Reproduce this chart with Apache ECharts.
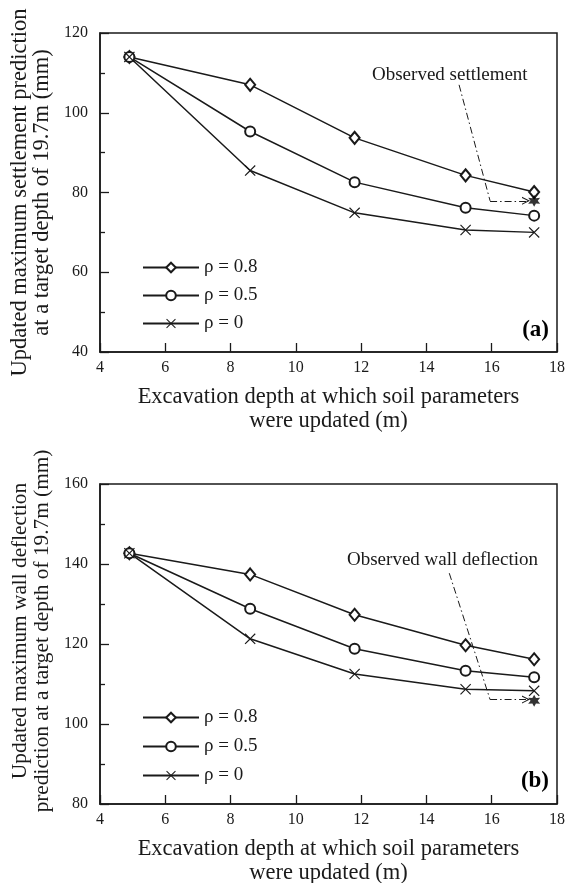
<!DOCTYPE html>
<html>
<head>
<meta charset="utf-8">
<script src="https://cdn.jsdelivr.net/npm/echarts@6/dist/echarts.min.js"></script>
<style>
html,body{margin:0;padding:0;background:#fff;}
#chart{width:565px;height:883px;}
</style>
</head>
<body>
<div id="chart"></div>
<script>
// ---- data ----
const xDepth = [4.9, 8.6, 11.8, 15.2, 17.3];
const settleRho08 = [114.0, 107.0, 93.7, 84.3, 80.1];
const settleRho05 = [114.0, 95.3, 82.6, 76.2, 74.2];
const settleRho00 = [114.0, 85.5, 74.9, 70.6, 70.0];
const settleObserved = [[17.3, 77.9]];
const deflRho08 = [142.7, 137.4, 127.3, 119.7, 116.2];
const deflRho05 = [142.7, 128.8, 118.8, 113.3, 111.7];
const deflRho00 = [142.7, 121.3, 112.5, 108.7, 108.3];
const deflObserved = [[17.3, 105.8]];
const seriesNames = ['ρ = 0.8', 'ρ = 0.5', 'ρ = 0'];
const xTicks = [4, 6, 8, 10, 12, 14, 16, 18];
const settleTicks = [40, 60, 80, 100, 120];
const deflTicks = [80, 100, 120, 140, 160];
// annotation leader lines (data coordinates)
const settleLeader = [[15.0, 107.0], [15.95, 77.9]];
const settleArrow = [[15.95, 77.9], [17.05, 77.9]];
const deflLeader = [[14.7, 137.7], [15.95, 106.1]];
const deflArrow = [[15.95, 106.1], [17.05, 106.1]];

const pair = (xs, ys) => xs.map((x, i) => [x, ys[i]]);

const FONT = '"Liberation Serif", "Times New Roman", serif';
const INK = '#1a1a1a';
const crossPath = 'path://M0,1.5 L1.5,0 L10,8.5 L18.5,0 L20,1.5 L11.5,10 L20,18.5 L18.5,20 L10,11.5 L1.5,20 L0,18.5 L8.5,10 Z';
const starPath = 'path://M5,0 L6.3,2.75 L9.33,2.5 L7.6,5 L9.33,7.5 L6.3,7.25 L5,10 L3.7,7.25 L0.67,7.5 L2.4,5 L0.67,2.5 L3.7,2.75 Z';
const chevronPath = 'path://M0,10 L5,0 L10,10 L8.6,10 L5,2.8 L1.4,10 Z';

const markerDefs = [
  {symbol: 'emptyDiamond', symbolSize: [10, 12], border: 1.2},
  {symbol: 'emptyCircle', symbolSize: 10, border: 1.2},
  {symbol: crossPath, symbolSize: 11, border: 0}
];

function xAxisDef(gi) {
  return {
    gridIndex: gi, type: 'value', min: 4, max: 18, interval: 2,
    name: 'Excavation depth at which soil parameters\nwere updated (m)',
    nameLocation: 'middle', nameGap: 33,
    nameTextStyle: {fontFamily: FONT, fontSize: 22.5, color: INK, lineHeight: 24},
    axisLine: {show: true, lineStyle: {color: INK, width: 1.5}},
    axisTick: {show: true, inside: true, length: 9, lineStyle: {color: INK, width: 1.3}},
    axisLabel: {fontFamily: FONT, fontSize: 16, color: INK, margin: 8,
      formatter: v => xTicks.includes(v) ? String(v) : ''},
    splitLine: {show: false}
  };
}
function yAxisDef(gi, min, max, name, ticks, fs, pad) {
  return {
    gridIndex: gi, type: 'value', min: min, max: max, interval: 20,
    name: name, nameLocation: 'middle', nameGap: 47,
    nameTextStyle: {fontFamily: FONT, fontSize: fs, color: INK, lineHeight: 22, padding: pad},
    axisLine: {show: true, lineStyle: {color: INK, width: 1.5}},
    axisTick: {show: true, inside: true, length: 9, lineStyle: {color: INK, width: 1.3}},
    minorTick: {show: true, splitNumber: 2, length: 5, lineStyle: {color: INK, width: 1.3}},
    axisLabel: {fontFamily: FONT, fontSize: 16, color: INK, margin: 12,
      formatter: v => ticks.includes(v) ? String(v) : ''},
    splitLine: {show: false}
  };
}

function lineSeries(name, gi, ys, k) {
  return {
    name: name, type: 'line', xAxisIndex: gi, yAxisIndex: gi,
    data: pair(xDepth, ys),
    symbol: markerDefs[k].symbol, symbolSize: markerDefs[k].symbolSize,
    showAllSymbol: true,
    lineStyle: {color: INK, width: 1.5},
    itemStyle: {color: INK, borderColor: INK, borderWidth: markerDefs[k].border},
    z: 3
  };
}

function annotationSeries(gi, leader, arrow, observed) {
  return [
    {
      type: 'lines', coordinateSystem: 'cartesian2d', xAxisIndex: gi, yAxisIndex: gi,
      data: [
        {coords: leader, symbol: ['none', 'none']},
        {coords: arrow, symbol: ['none', chevronPath], symbolSize: [8, 8]}
      ],
      symbol: ['none', chevronPath], symbolSize: 8,
      lineStyle: {color: INK, width: 1, type: [7, 3, 1.5, 3], opacity: 1, curveness: 0},
      z: 2, silent: true
    },
    {
      type: 'scatter', xAxisIndex: gi, yAxisIndex: gi, data: observed,
      symbol: starPath, symbolSize: 12, itemStyle: {color: '#000'}, z: 4
    }
  ];
}

const option = {
  animation: false,
  backgroundColor: '#fff',
  grid: [
    {left: 100, right: 8, top: 33, height: 319, show: true, borderColor: INK, borderWidth: 1.5,
      backgroundColor: 'transparent', outerBoundsMode: 'none'},
    {left: 100, right: 8, top: 484, height: 320, show: true, borderColor: INK, borderWidth: 1.5,
      backgroundColor: 'transparent', outerBoundsMode: 'none'}
  ],
  xAxis: [xAxisDef(0), xAxisDef(1)],
  yAxis: [
    yAxisDef(0, 40, 120, 'Updated maximum settlement prediction\nat a target depth of 19.7m (mm)', settleTicks, 22.5, 0),
    yAxisDef(1, 80, 160, 'Updated maximum wall deflection\nprediction at a target depth of 19.7m (mm)', deflTicks, 21.3, [0, 0, 0, 26])
  ],
  legend: [
    {data: seriesNames, orient: 'vertical', left: 137, top: 253, itemWidth: 56, itemHeight: 12, itemGap: 9,
      textStyle: {fontFamily: FONT, fontSize: 19, color: INK, lineHeight: 18}, selectedMode: false},
    {data: seriesNames, orient: 'vertical', left: 137, top: 703, itemWidth: 56, itemHeight: 12, itemGap: 10,
      textStyle: {fontFamily: FONT, fontSize: 19, color: INK, lineHeight: 18}, selectedMode: false}
  ],
  graphic: [
    {type: 'text', left: 372, top: 66, style: {text: 'Observed settlement', font: '19px ' + FONT, fill: INK}},
    {type: 'text', left: 347, top: 551, style: {text: 'Observed wall deflection', font: '19px ' + FONT, fill: INK}},
    {type: 'text', right: 16, top: 319, style: {text: '(a)', font: 'bold 23px ' + FONT, fill: '#000'}},
    {type: 'text', right: 16, top: 770, style: {text: '(b)', font: 'bold 23px ' + FONT, fill: '#000'}}
  ],
  series: [
    lineSeries(seriesNames[0], 0, settleRho08, 0),
    lineSeries(seriesNames[1], 0, settleRho05, 1),
    lineSeries(seriesNames[2], 0, settleRho00, 2),
    ...annotationSeries(0, settleLeader, settleArrow, settleObserved),
    lineSeries(seriesNames[0], 1, deflRho08, 0),
    lineSeries(seriesNames[1], 1, deflRho05, 1),
    lineSeries(seriesNames[2], 1, deflRho00, 2),
    ...annotationSeries(1, deflLeader, deflArrow, deflObserved)
  ]
};

const chart = echarts.init(document.getElementById('chart'), null, {renderer: 'canvas'});
chart.setOption(option);
</script>
</body>
</html>
